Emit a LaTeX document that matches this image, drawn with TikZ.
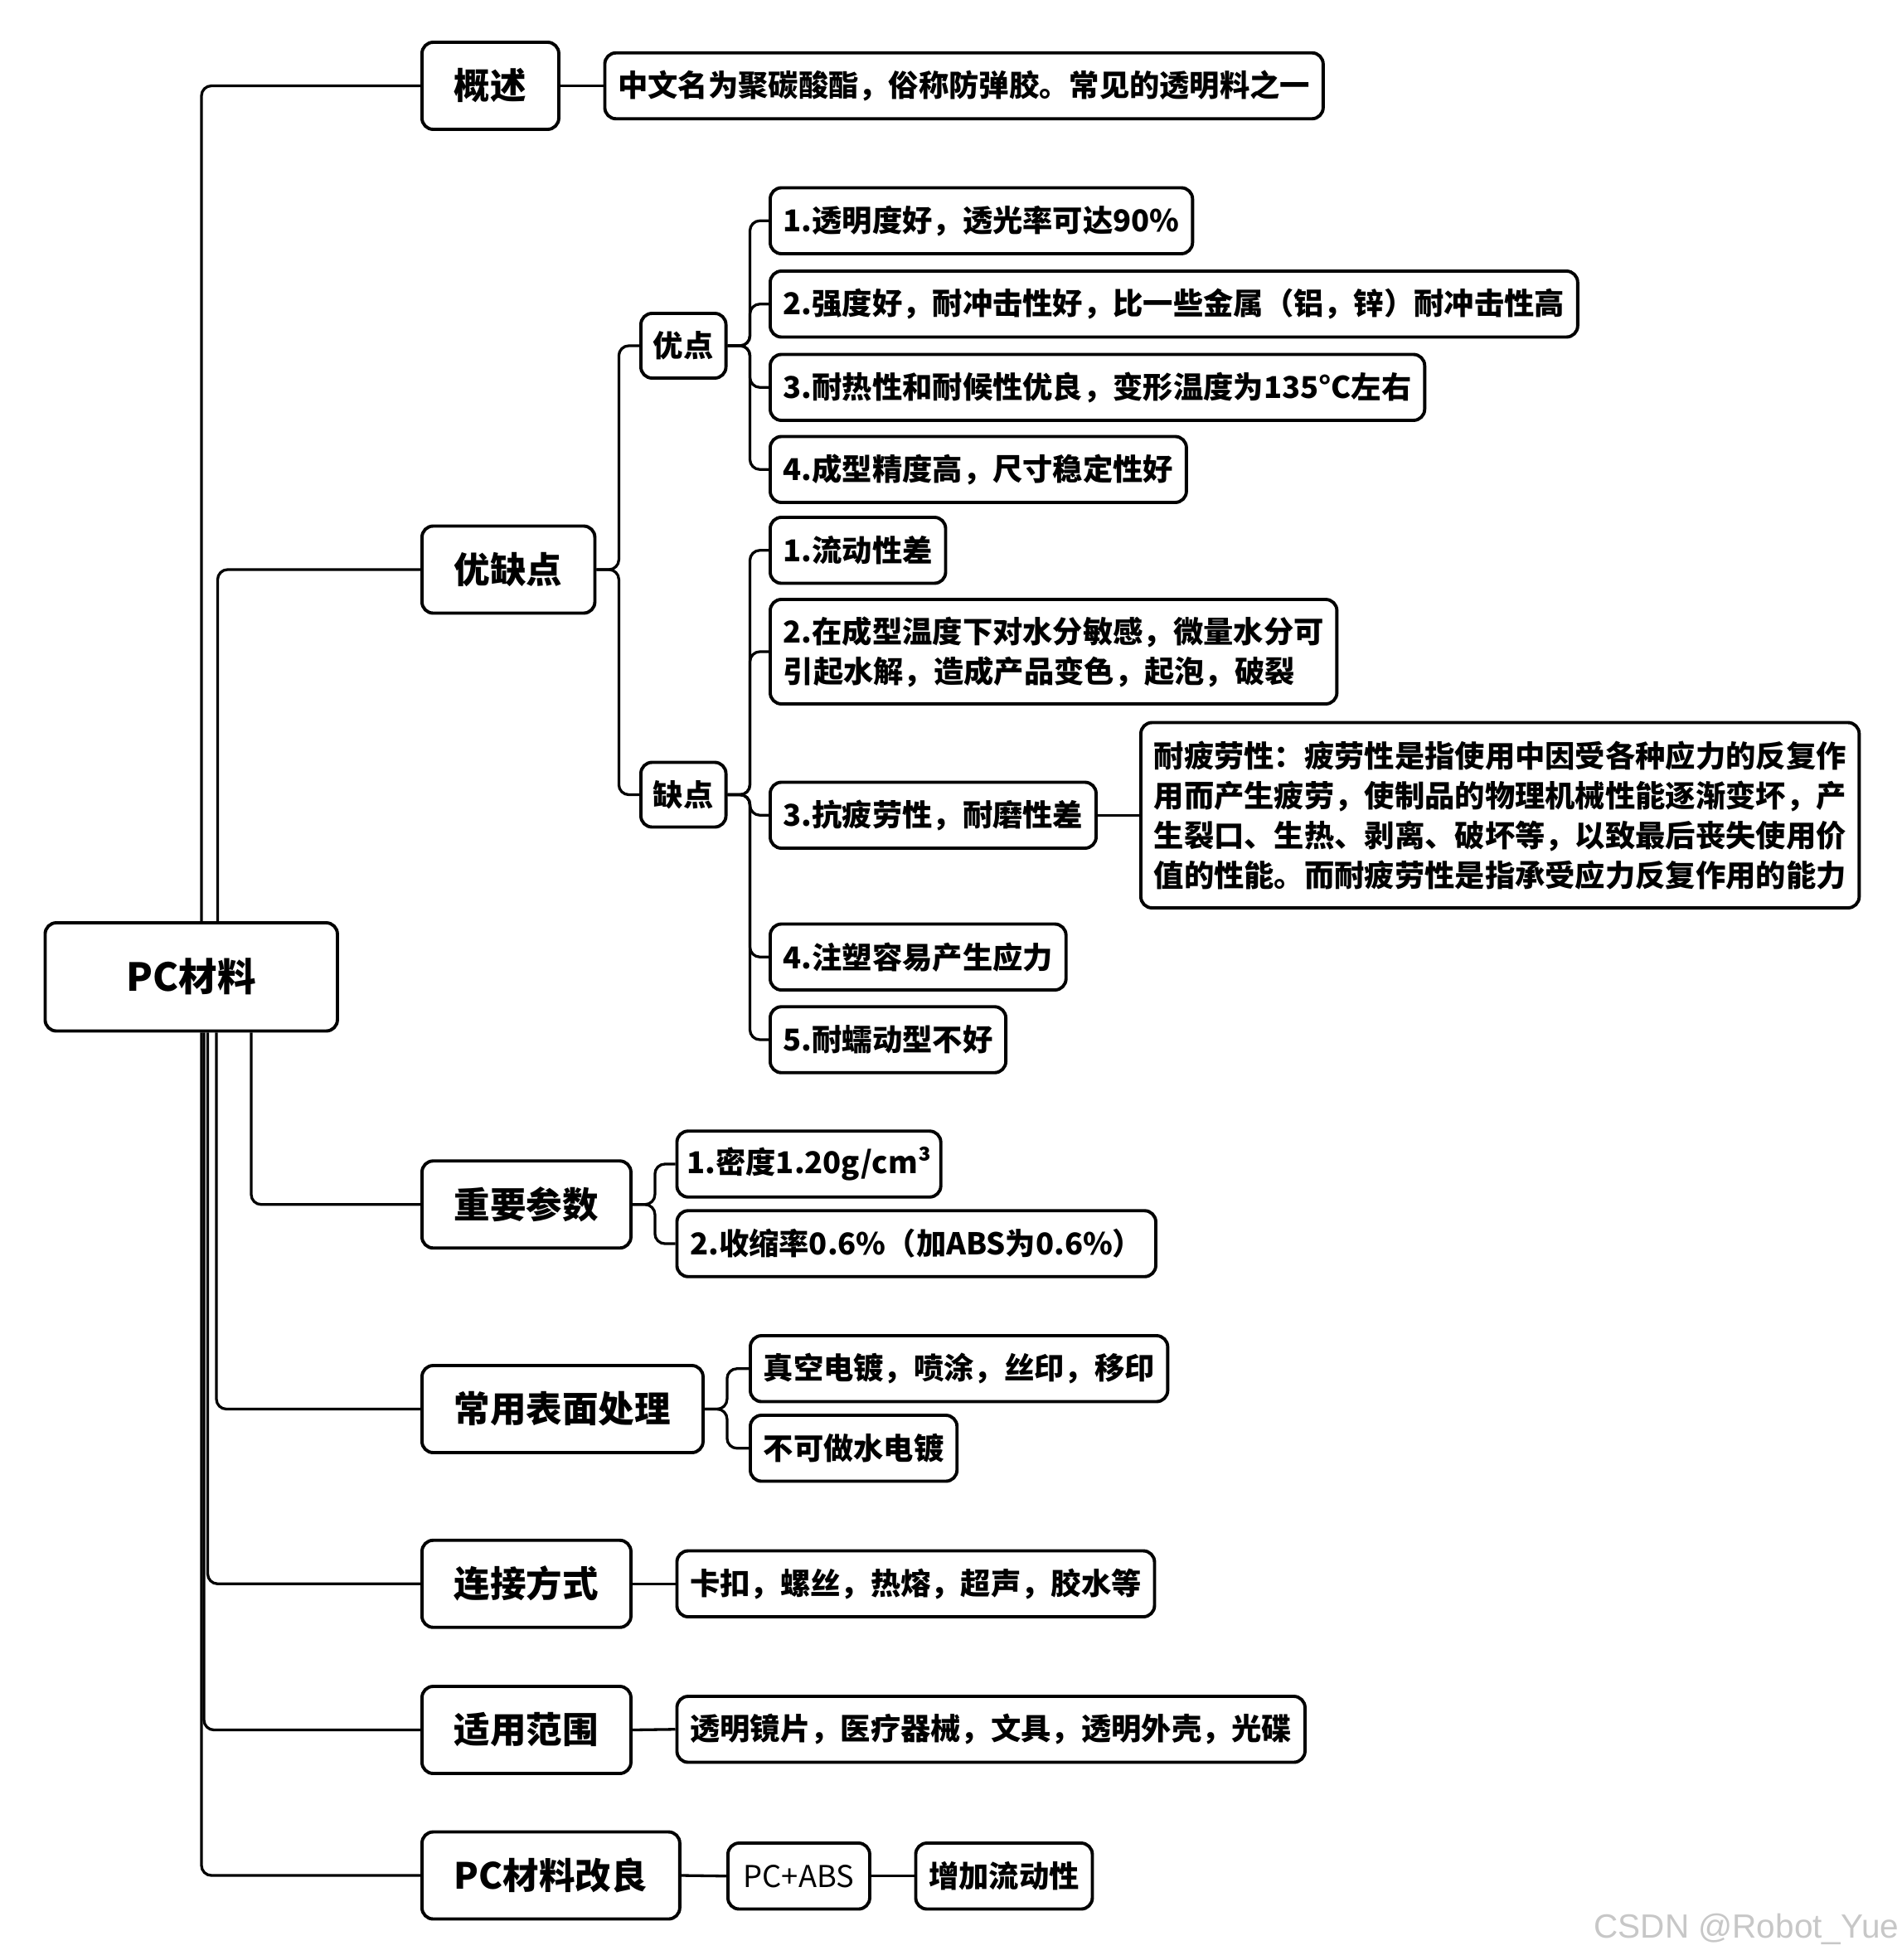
\documentclass[tikz,border=0pt]{standalone}
\usepackage{fontspec}
\setmainfont{Noto Sans CJK SC}
\newfontfamily\wmfont{Liberation Sans}
\begin{document}
\begin{tikzpicture}[x = 1pt, y = -1pt,
        box/.style = {draw, line width = 2.6, rounded corners = 9, anchor = west, font = \fontsize{24.2}{32}\selectfont\bfseries, inner xsep = 10.5, inner ysep = 0, minimum height = 53, align = left},
        topic/.style = {box, font = \fontsize{29}{34}\selectfont\bfseries, inner xsep = 26, minimum height = 70},
        sub/.style = {box, inner xsep = 10, minimum height = 52},
        link/.style = {line width = 2.2, rounded corners = 8}]
        \fill [white] (0, 0) rectangle (1529, 1576);
        \useasboundingbox (0, 0) rectangle (1529, 1576);
        \node [box, font = \fontsize{31}{36}\selectfont\bfseries, minimum width = 235, minimum height = 87, align = center] (pc) at (35, 785.5) {PC材料};
        \node [topic] (gs) at (338, 69) {概述};
        \node [topic] (yqd) at (338, 458) {优缺点};
        \node [topic] (cs) at (338, 968.5) {重要参数};
        \node [topic] (bm) at (338, 1133) {常用表面处理};
        \node [topic] (lj) at (338, 1273.5) {连接方式};
        \node [topic] (fw) at (338, 1391) {适用范围};
        \node [topic] (gl) at (338, 1508) {PC材料改良};
        \node [box] (gs1) at (485, 69) {中文名为聚碳酸酯，俗称防弹胶。常见的透明料之一};
        \node [sub] (yd) at (514, 278) {优点};
        \node [sub] (qd) at (514, 639) {缺点};
        \node [box] (yd1) at (618, 177.5) {1.透明度好，透光率可达90\%};
        \node [box] (yd2) at (618, 244.5) {2.强度好，耐冲击性好，比一些金属（铝，锌）耐冲击性高};
        \node [box] (yd3) at (618, 311.5) {3.耐热性和耐候性优良，变形温度为135°C左右};
        \node [box] (yd4) at (618, 377.5) {4.成型精度高，尺寸稳定性好};
        \node [box] (qd1) at (618, 442.5) {1.流动性差};
        \node [box, minimum height = 84] (qd2) at (618, 524) {2.在成型温度下对水分敏感，微量水分可\\引起水解，造成产品变色，起泡，破裂};
        \node [box] (qd3) at (618, 655.5) {3.抗疲劳性，耐磨性差};
        \node [box, minimum height = 149] (nplx) at (916, 655.5) {耐疲劳性：疲劳性是指使用中因受各种应力的反复作\\用而产生疲劳，使制品的物理机械性能逐渐变坏，产\\生裂口、生热、剥离、破坏等，以致最后丧失使用价\\值的性能。而耐疲劳性是指承受应力反复作用的能力};
        \node [box] (qd4) at (618, 769.5) {4.注塑容易产生应力};
        \node [box] (qd5) at (618, 836) {5.耐蠕动型不好};
        \node [box, inner xsep = 8] (cs1) at (543, 936) {1.密度1.20g/cm³};
        \node [box] (cs2) at (543, 1000) {2.收缩率0.6\%（加ABS为0.6\%）};
        \node [box] (bm1) at (602, 1100.5) {真空电镀，喷涂，丝印，移印};
        \node [box] (bm2) at (602, 1164.5) {不可做水电镀};
        \node [box] (lj1) at (543, 1273.5) {卡扣，螺丝，热熔，超声，胶水等};
        \node [box] (fw1) at (543, 1390.5) {透明镜片，医疗器械，文具，透明外壳，光碟};
        \node [box, font = \fontsize{24.2}{32}\selectfont, minimum width = 114] (gl1) at (584, 1508.5) {PC+ABS};
        \node [box] (gl2) at (735, 1508.5) {增加流动性};
        \node [anchor = east, text = black!22, font = \wmfont\fontsize{27}{30}\selectfont, inner sep = 0] (wm) at (1527, 1551) {CSDN @Robot\_Yue};
        \draw [link] ([xshift = 127]pc.north west) |- (gs.west);
        \draw [link] ([xshift = 140]pc.north west) |- (yqd.west);
        \draw [link] ([xshift = 167]pc.south west) |- (cs.west);
        \draw [link] ([xshift = 139]pc.south west) |- (bm.west);
        \draw [link] ([xshift = 132]pc.south west) |- (lj.west);
        \draw [link] ([xshift = 129]pc.south west) |- (fw.west);
        \draw [link] ([xshift = 127]pc.south west) |- (gl.west);
        \draw [link] (gs.east) -- (gs1.west);
        \foreach \k in {yd, qd}
            \draw [link] (yqd.east) -- ++(18, 0) |- (\k.west);
        \foreach \k in {yd1, yd2, yd3, yd4}
            \draw [link] (yd.east) -- ++(18, 0) |- (\k.west);
        \foreach \k in {qd1, qd2, qd3, qd4, qd5}
            \draw [link] (qd.east) -- ++(18, 0) |- (\k.west);
        \draw [link] (qd3.east) -- (nplx.west);
        \foreach \k in {cs1, cs2}
            \draw [link] (cs.east) -- ++(18, 0) |- (\k.west);
        \foreach \k in {bm1, bm2}
            \draw [link] (bm.east) -- ++(18, 0) |- (\k.west);
        \draw [link] (lj.east) -- (lj1.west);
        \draw [link] (fw.east) -- (fw1.west);
        \draw [link] (gl.east) -- (gl1.west);
        \draw [link] (gl1.east) -- (gl2.west);
    \end{tikzpicture}
\end{document}
